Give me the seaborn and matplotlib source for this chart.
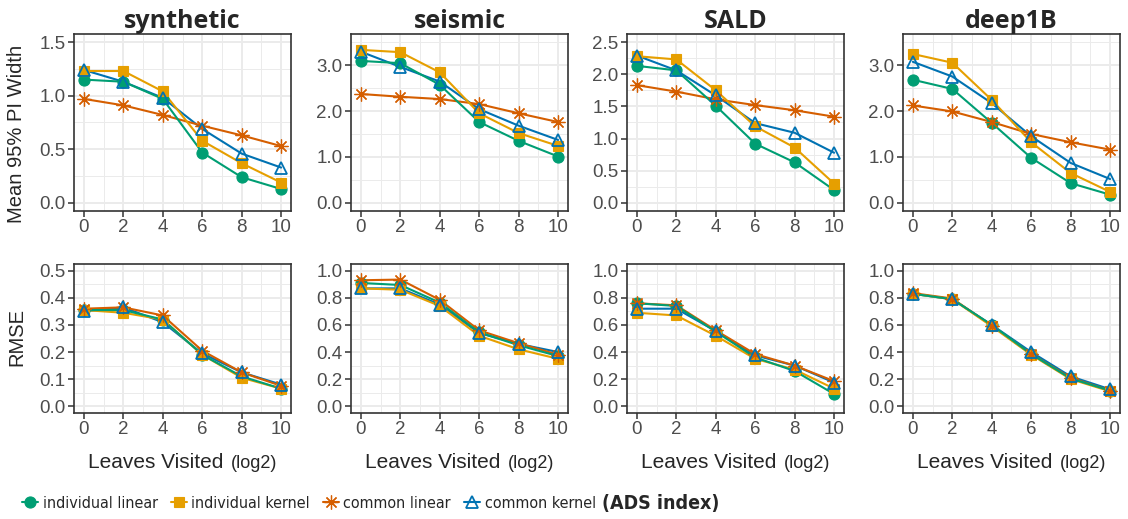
import numpy as np
import pandas as pd
import matplotlib
matplotlib.use("Agg")
import matplotlib.pyplot as plt
import seaborn as sns
from matplotlib import font_manager
from matplotlib.font_manager import FontProperties
from matplotlib.lines import Line2D
from matplotlib.ticker import FixedLocator, FormatStrFormatter
from matplotlib.offsetbox import TextArea, HPacker, AnnotationBbox

# ---- data ----
leaves = [0, 2, 4, 6, 8, 10]
datasets = ["synthetic", "seismic", "SALD", "deep1B"]
methods = ["individual linear", "individual kernel", "common linear", "common kernel"]

# rows in every table: individual linear, individual kernel, common linear, common kernel
pi_synthetic = [[1.15, 1.13, 0.97, 0.47, 0.24, 0.13],
                [1.23, 1.23, 1.04, 0.58, 0.37, 0.19],
                [0.97, 0.91, 0.82, 0.72, 0.63, 0.53],
                [1.24, 1.13, 0.98, 0.69, 0.46, 0.33]]
pi_seismic = [[3.09, 3.04, 2.57, 1.76, 1.35, 1.01],
              [3.33, 3.28, 2.84, 1.95, 1.52, 1.24],
              [2.37, 2.31, 2.26, 2.15, 1.95, 1.76],
              [3.29, 2.96, 2.64, 2.04, 1.68, 1.37]]
pi_sald = [[2.13, 2.06, 1.51, 0.92, 0.63, 0.20],
           [2.28, 2.23, 1.75, 1.19, 0.86, 0.30],
           [1.83, 1.73, 1.61, 1.52, 1.44, 1.34],
           [2.29, 2.06, 1.67, 1.24, 1.09, 0.78]]
pi_deep1b = [[2.68, 2.48, 1.74, 0.98, 0.43, 0.18],
             [3.24, 3.05, 2.24, 1.32, 0.65, 0.24],
             [2.12, 1.99, 1.76, 1.50, 1.32, 1.16],
             [3.07, 2.75, 2.17, 1.45, 0.87, 0.52]]

rmse_synthetic = [[0.355, 0.355, 0.320, 0.190, 0.110, 0.065],
                  [0.355, 0.345, 0.320, 0.190, 0.105, 0.065],
                  [0.360, 0.365, 0.335, 0.205, 0.125, 0.075],
                  [0.350, 0.365, 0.310, 0.195, 0.125, 0.080]]
rmse_seismic = [[0.91, 0.895, 0.765, 0.545, 0.45, 0.37],
                [0.87, 0.86, 0.74, 0.52, 0.42, 0.35],
                [0.93, 0.935, 0.785, 0.56, 0.465, 0.38],
                [0.87, 0.87, 0.75, 0.54, 0.46, 0.40]]
rmse_sald = [[0.76, 0.74, 0.55, 0.36, 0.26, 0.09],
             [0.69, 0.67, 0.52, 0.35, 0.27, 0.13],
             [0.76, 0.745, 0.56, 0.385, 0.30, 0.185],
             [0.72, 0.72, 0.555, 0.375, 0.30, 0.175]]
rmse_deep1b = [[0.83, 0.79, 0.60, 0.385, 0.205, 0.115],
               [0.83, 0.79, 0.59, 0.38, 0.20, 0.11],
               [0.835, 0.795, 0.595, 0.385, 0.21, 0.115],
               [0.83, 0.79, 0.60, 0.40, 0.22, 0.125]]

pi_top = [1.5, 3.5, 2.5, 3.5]
pi_step = [0.5, 1.0, 0.5, 1.0]
rmse_top = [0.5, 1.0, 1.0, 1.0]
rmse_step = [0.1, 0.2, 0.2, 0.2]

tables = {
    "pi": [pi_synthetic, pi_seismic, pi_sald, pi_deep1b],
    "rmse": [rmse_synthetic, rmse_seismic, rmse_sald, rmse_deep1b],
}
rows = []
for metric, tabs in tables.items():
    for ds, tab in zip(datasets, tabs):
        for method, vals in zip(methods, tab):
            for x, v in zip(leaves, vals):
                rows.append({"metric": metric, "dataset": ds, "method": method,
                             "leaves": x, "value": v})
df = pd.DataFrame(rows)

colors = {"individual linear": "#009E73", "individual kernel": "#E69F00",
          "common linear": "#D55E00", "common kernel": "#0072B2"}
marker_kw = {
    "individual linear": dict(marker="o", markersize=8, markerfacecolor="#009E73",
                              markeredgecolor="#009E73", markeredgewidth=0.8),
    "individual kernel": dict(marker="s", markersize=7.5, markerfacecolor="#E69F00",
                              markeredgecolor="#E69F00", markeredgewidth=0.8),
    "common linear": dict(marker=(8, 2, 0), markersize=10, markerfacecolor="#D55E00",
                          markeredgecolor="#D55E00", markeredgewidth=0.9),
    "common kernel": dict(marker="^", markersize=9, markerfacecolor="none",
                          markeredgecolor="#0072B2", markeredgewidth=1.3),
}

# ---- style ----
sns.set_style("ticks")
plt.rcParams["font.family"] = ["Liberation Sans", "DejaVu Sans"]


def find_condensed(bold):
    for f in font_manager.fontManager.ttflist:
        tag = (f.name + " " + f.fname).lower()
        if ("narrow" in tag or "condensed" in tag) and "italic" not in tag and "oblique" not in tag:
            is_bold = (f.weight in ("bold", 700, "heavy") or "bold" in f.fname.lower())
            if is_bold == bold:
                return FontProperties(fname=f.fname)
    return None


leg_font = find_condensed(False)
ads_font = find_condensed(True)
if leg_font is not None:
    leg_font.set_size(11.5)
else:
    leg_font = FontProperties(family="Liberation Sans", size=10.5)
if ads_font is not None:
    ads_font.set_size(14)
else:
    ads_font = FontProperties(family="Liberation Sans", size=13, weight="bold")

W, H = 1128, 519
fig = plt.figure(figsize=(W / 100, H / 100), dpi=100)
col_left = [74, 351, 627, 903]
col_w = 217
row_px = [(34, 211), (264, 413)]

for r, metric in enumerate(["pi", "rmse"]):
    top_px, bot_px = row_px[r]
    tops = pi_top if metric == "pi" else rmse_top
    steps = pi_step if metric == "pi" else rmse_step
    for c, ds in enumerate(datasets):
        ax = fig.add_axes([col_left[c] / W, 1 - bot_px / H, col_w / W, (bot_px - top_px) / H])
        sub = df[(df.metric == metric) & (df.dataset == ds)]

        # lines (green drawn last, on top)
        sns.lineplot(data=sub, x="leaves", y="value", hue="method",
                     hue_order=methods[::-1], palette=colors, linewidth=1.5,
                     estimator=None, errorbar=None, legend=False, ax=ax)
        # points
        for m in methods:
            s = sub[sub.method == m]
            sns.lineplot(x=s["leaves"].values, y=s["value"].values, color=colors[m],
                         linestyle="none", estimator=None, errorbar=None,
                         legend=False, ax=ax, **marker_kw[m])

        top = tops[c]
        step = steps[c]
        ax.set_xlim(-0.5, 10.5)
        ax.set_ylim(-0.05 * top, 1.05 * top)
        major = np.arange(0, top + 1e-9, step)
        minor = np.arange(step / 2, 1.05 * top, step)
        ax.yaxis.set_major_locator(FixedLocator(major))
        ax.yaxis.set_minor_locator(FixedLocator(minor))
        ax.yaxis.set_major_formatter(FormatStrFormatter("%.1f"))
        ax.xaxis.set_major_locator(FixedLocator(leaves))
        ax.xaxis.set_minor_locator(FixedLocator([1, 3, 5, 7, 9]))

        ax.set_axisbelow(True)
        ax.grid(which="major", color="#EBEBEB", linewidth=1.4)
        ax.grid(which="minor", color="#EBEBEB", linewidth=0.7)
        for sp in ax.spines.values():
            sp.set_color("#333333")
            sp.set_linewidth(1.2)
        ax.tick_params(which="major", length=4, width=1.1, color="#333333",
                       labelcolor="#4D4D4D", labelsize=13.5, pad=2)
        ax.tick_params(which="minor", length=0)
        ax.set_xlabel("")
        ax.set_ylabel("")

        if r == 0:
            ax.set_title(ds, fontsize=18, fontweight="bold", family="Open Sans", pad=3)
        else:
            box = HPacker(children=[TextArea("Leaves Visited", textprops=dict(size=15)),
                                    TextArea("(log2)", textprops=dict(size=13))],
                          align="baseline", pad=0, sep=5)
            ab = AnnotationBbox(box, (0.5, -0.33), xycoords="axes fraction",
                                box_alignment=(0.5, 0.5), frameon=False)
            ax.add_artist(ab)

fig.text(17 / W, 1 - 134 / H, "Mean 95% PI Width", rotation=90, ha="center",
         va="center", fontsize=14.5)
fig.text(17 / W, 1 - 337 / H, "RMSE", rotation=90, ha="center", va="center",
         fontsize=14.5)

handles = [Line2D([0], [0], color=colors[m], linewidth=1.5, **marker_kw[m]) for m in methods]
leg = fig.legend(handles, methods, loc="center left", bbox_to_anchor=(22 / W, 1 - 503 / H),
                 ncol=4, frameon=False, prop=leg_font,
                 handlelength=1.0, handletextpad=0.3, columnspacing=0.8,
                 borderaxespad=0, borderpad=0)
fig.canvas.draw()
bb = leg.get_window_extent()
fig.text((bb.x1 + 6) / W, 1 - 503 / H, "(ADS index)", ha="left", va="center",
         fontproperties=ads_font)

fig.savefig("out.png", dpi=100)
